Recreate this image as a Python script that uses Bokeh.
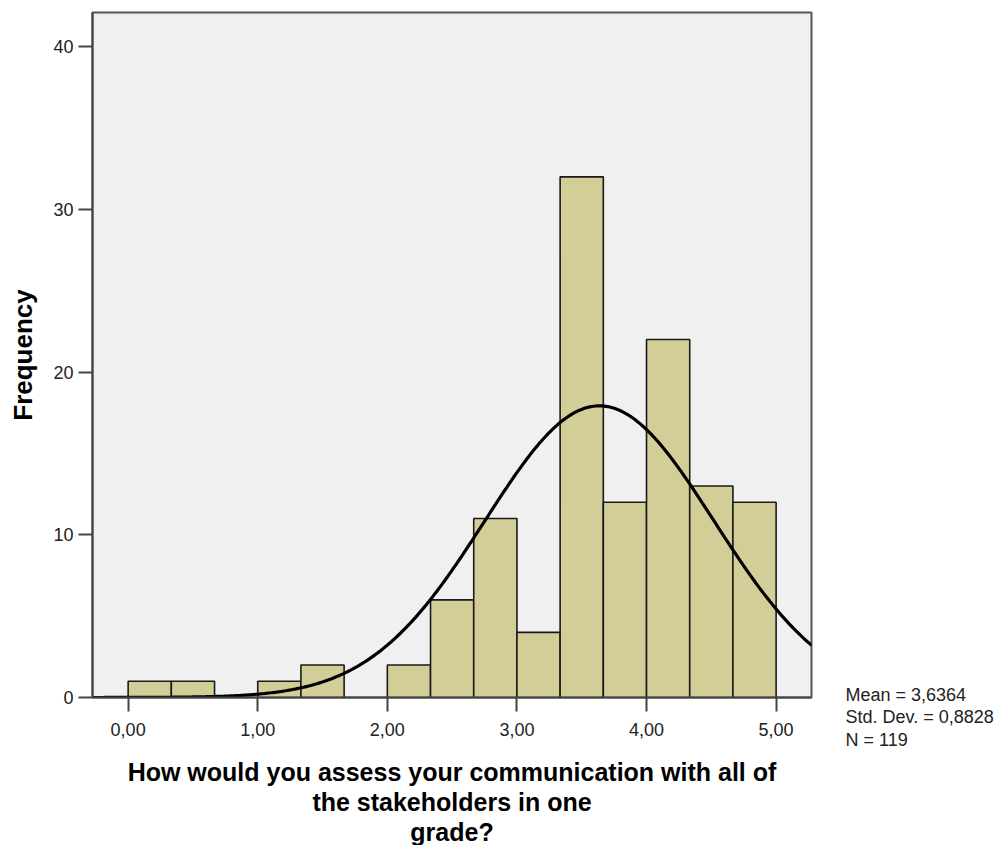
import numpy as np
from bokeh.plotting import figure
from bokeh.models import Label, FixedTicker, Title, Spacer
from bokeh.layouts import row, column
from bokeh.embed import file_html
from bokeh.resources import INLINE

# ---- data ----
bin_edges = [0.0, 1/3, 2/3, 1.0, 4/3, 5/3, 2.0, 7/3, 8/3, 3.0, 10/3, 11/3, 4.0, 13/3, 14/3, 5.0]
counts = [1, 1, 0, 1, 2, 0, 2, 6, 11, 4, 32, 12, 22, 13, 12]
x_ticks = [0, 1, 2, 3, 4, 5]
x_tick_labels = ["0,00", "1,00", "2,00", "3,00", "4,00", "5,00"]
y_ticks = [0, 10, 20, 30, 40]
stat_mean = 3.6364
stat_sd = 0.8828
stat_n = 119
stats_text = ["Mean = 3,6364", "Std. Dev. = 0,8828", "N = 119"]
x_title_lines = ["How would you assess your communication with all of",
                 "the stakeholders in one", "grade?"]
y_title = "Frequency"

FONT = "Liberation Sans"
BAR_FILL = "#d3ce97"

p = figure(frame_width=719, frame_height=685,
           min_border_left=92, min_border_right=24,
           min_border_top=12, min_border_bottom=120,
           x_range=(-0.275, 5.273), y_range=(0, 42.1),
           output_backend="svg", toolbar_location=None)

p.background_fill_color = "#f0f0f0"
p.border_fill_color = "white"
p.outline_line_color = "#555555"
p.outline_line_width = 2
p.xgrid.visible = False
p.ygrid.visible = False

# bars
lefts = [bin_edges[i] for i in range(len(counts)) if counts[i] > 0]
rights = [bin_edges[i + 1] for i in range(len(counts)) if counts[i] > 0]
tops = [c for c in counts if c > 0]
p.quad(left=lefts, right=rights, bottom=0, top=tops,
       fill_color=BAR_FILL, line_color="#1a1a1a", line_width=1.6)

# normal curve from the reported statistics
bw = bin_edges[1] - bin_edges[0]
xs = np.linspace(-0.275, 5.273, 400)
ys = stat_n * bw * np.exp(-0.5 * ((xs - stat_mean) / stat_sd) ** 2) / (stat_sd * np.sqrt(2 * np.pi))
p.line(xs, ys, line_color="black", line_width=3.2)

# axes
p.xaxis.ticker = FixedTicker(ticks=x_ticks)
p.xaxis.major_label_overrides = {t: l for t, l in zip(x_ticks, x_tick_labels)}
p.yaxis.ticker = FixedTicker(ticks=y_ticks)
for ax in (p.xaxis[0], p.yaxis[0]):
    ax.axis_line_color = "#444444"
    ax.axis_line_width = 2
    ax.major_tick_line_color = "#444444"
    ax.major_tick_line_width = 2
    ax.major_tick_out = 14
    ax.major_tick_in = 0
    ax.minor_tick_line_color = None
    ax.major_label_text_font = FONT
    ax.major_label_text_font_size = "18px"
    ax.major_label_text_color = "#222222"
p.xaxis.major_label_standoff = 11
p.yaxis.major_label_standoff = 5

# y title
p.yaxis.axis_label = y_title
p.yaxis.axis_label_text_font = FONT
p.yaxis.axis_label_text_font_size = "26px"
p.yaxis.axis_label_text_font_style = "bold"
p.yaxis.axis_label_text_color = "black"
p.yaxis.axis_label_standoff = 12

# small blank axis label used only as vertical spacing before the x title
p.xaxis.axis_label = " "
p.xaxis.axis_label_text_font_size = "10px"
p.xaxis.axis_label_standoff = 3

# x title, three lines
for txt in x_title_lines:
    t = Title(text=txt, align="center", text_font=FONT, text_font_size="25px",
              text_font_style="bold", text_color="black",
              standoff=0, offset=0)
    p.add_layout(t, "below")

# statistics box in a small companion figure
s = figure(width=165, height=90, min_border=0, x_range=(0, 1), y_range=(0, 1),
           output_backend="svg", toolbar_location=None)
s.axis.visible = False
s.grid.visible = False
s.outline_line_color = None
s.background_fill_color = None
s.border_fill_color = None
for txt, yy in zip(stats_text, [66, 44, 21]):
    s.add_layout(Label(x=10, y=yy, x_units="screen", y_units="screen",
                       text=txt, text_align="left",
                       text_baseline="alphabetic", text_font=FONT,
                       text_font_size="18px", text_color="#222222"))

layout = row(p, column(Spacer(width=165, height=670), s))
open("out.html", "w").write(file_html(layout, INLINE))
